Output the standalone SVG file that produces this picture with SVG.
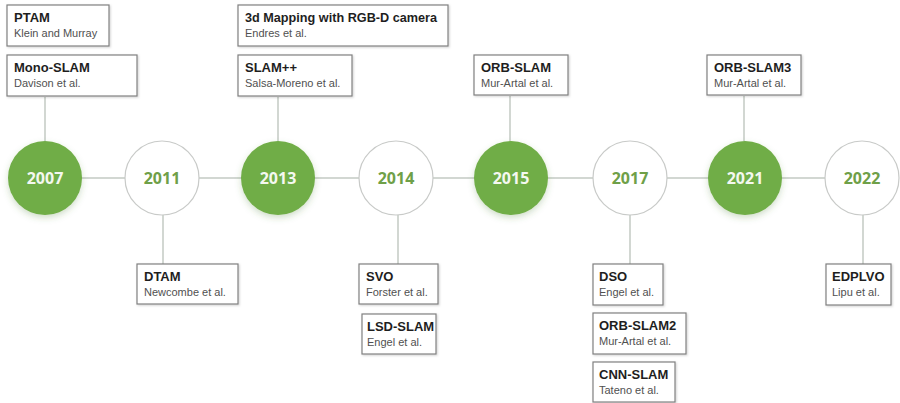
<svg xmlns="http://www.w3.org/2000/svg" width="900" height="403" viewBox="0 0 900 403">
  <defs>
    <filter id="soft" x="-30%" y="-30%" width="160%" height="170%">
      <feDropShadow dx="0" dy="3" stdDeviation="3" flood-color="#4a7a2a" flood-opacity="0.25"/>
    </filter>
    <filter id="boxshadow" x="-5%" y="-10%" width="110%" height="125%">
      <feDropShadow dx="1" dy="1" stdDeviation="0.8" flood-color="#000" flood-opacity="0.18"/>
    </filter>
  </defs>
  <style>
    .link { stroke: #c3cac3; stroke-width: 1.5; fill: none; }
    .yr-fill { fill: #70ad47; filter: url(#soft); }
    .yr-open { fill: #ffffff; stroke: #c8cac8; stroke-width: 1.2; }
    .yr-t { font-family: "Open Sans", "Liberation Sans", sans-serif; font-weight: 700; font-size: 16px; text-anchor: middle; }
    .yr-t.on { fill: #f4f8f0; }
    .yr-t.off { fill: #6fa048; }
    .card rect { fill: #ffffff; stroke: #808080; stroke-width: 1.2; filter: url(#boxshadow); }
    .ttl { font-family: "Liberation Sans", Arial, sans-serif; font-weight: 700; font-size: 13px; fill: #1e1e1e; }
    .sub { font-family: "Liberation Sans", Arial, sans-serif; font-size: 11px; fill: #505050; }
  </style>

  <!-- timeline connectors -->
  <g id="connectors">
    <line class="link" x1="45" y1="178" x2="862" y2="178"/>
    <line class="link" x1="45" y1="97" x2="45" y2="141"/>
    <line class="link" x1="278" y1="97" x2="278" y2="141"/>
    <line class="link" x1="510" y1="96" x2="510" y2="141"/>
    <line class="link" x1="744" y1="96" x2="744" y2="141"/>
    <line class="link" x1="163" y1="215" x2="163" y2="264"/>
    <line class="link" x1="398" y1="215" x2="398" y2="264"/>
    <line class="link" x1="630" y1="215" x2="630" y2="264"/>
    <line class="link" x1="863" y1="215" x2="863" y2="264"/>
  </g>

  <!-- year markers -->
  <g id="y2007"><circle class="yr-fill" cx="45" cy="178" r="37"/><text class="yr-t on" x="45" y="184">2007</text></g>
  <g id="y2011"><circle class="yr-open" cx="162" cy="178" r="37"/><text class="yr-t off" x="162" y="184">2011</text></g>
  <g id="y2013"><circle class="yr-fill" cx="278" cy="178" r="37"/><text class="yr-t on" x="278" y="184">2013</text></g>
  <g id="y2014"><circle class="yr-open" cx="396" cy="178" r="37"/><text class="yr-t off" x="396" y="184">2014</text></g>
  <g id="y2015"><circle class="yr-fill" cx="511" cy="178" r="37"/><text class="yr-t on" x="511" y="184">2015</text></g>
  <g id="y2017"><circle class="yr-open" cx="630" cy="178" r="37"/><text class="yr-t off" x="630" y="184">2017</text></g>
  <g id="y2021"><circle class="yr-fill" cx="745" cy="178" r="37"/><text class="yr-t on" x="745" y="184">2021</text></g>
  <g id="y2022"><circle class="yr-open" cx="862" cy="178" r="37"/><text class="yr-t off" x="862" y="184">2022</text></g>

  <!-- method cards -->
  <g id="ptam" class="card"><rect x="7" y="5" width="102" height="41"/><text class="ttl" x="14" y="22">PTAM</text><text class="sub" x="14" y="37">Klein and Murray</text></g>
  <g id="monoslam" class="card"><rect x="7" y="55" width="130" height="41"/><text class="ttl" x="14" y="72">Mono-SLAM</text><text class="sub" x="14" y="87">Davison et al.</text></g>
  <g id="rgbd" class="card"><rect x="238" y="5" width="210" height="41"/><text class="ttl" x="245" y="22" textLength="192" lengthAdjust="spacingAndGlyphs">3d Mapping with RGB-D camera</text><text class="sub" x="245" y="37">Endres et al.</text></g>
  <g id="slampp" class="card"><rect x="238" y="55" width="114" height="41"/><text class="ttl" x="245" y="72">SLAM++</text><text class="sub" x="245" y="87">Salsa-Moreno et al.</text></g>
  <g id="orbslam" class="card"><rect x="474" y="55" width="94" height="40"/><text class="ttl" x="481" y="72">ORB-SLAM</text><text class="sub" x="481" y="87">Mur-Artal et al.</text></g>
  <g id="orbslam3" class="card"><rect x="707" y="55" width="94" height="40"/><text class="ttl" x="714" y="72">ORB-SLAM3</text><text class="sub" x="714" y="87">Mur-Artal et al.</text></g>
  <g id="dtam" class="card"><rect x="137" y="264" width="101" height="40"/><text class="ttl" x="144" y="281">DTAM</text><text class="sub" x="144" y="296">Newcombe  et al.</text></g>
  <g id="svo" class="card"><rect x="359" y="264" width="79" height="40"/><text class="ttl" x="366" y="281">SVO</text><text class="sub" x="366" y="296">Forster et al.</text></g>
  <g id="lsdslam" class="card"><rect x="362" y="314" width="74" height="40"/><text class="ttl" x="367" y="331">LSD-SLAM</text><text class="sub" x="367" y="346">Engel et al.</text></g>
  <g id="dso" class="card"><rect x="593" y="264" width="70" height="41"/><text class="ttl" x="599" y="281">DSO</text><text class="sub" x="599" y="296">Engel et al.</text></g>
  <g id="orbslam2" class="card"><rect x="593" y="313" width="93" height="41"/><text class="ttl" x="599" y="330">ORB-SLAM2</text><text class="sub" x="599" y="345">Mur-Artal  et al.</text></g>
  <g id="cnnslam" class="card"><rect x="593" y="362" width="82" height="40"/><text class="ttl" x="599" y="379">CNN-SLAM</text><text class="sub" x="599" y="394">Tateno et al.</text></g>
  <g id="edplvo" class="card"><rect x="826" y="264" width="65" height="41"/><text class="ttl" x="832" y="281">EDPLVO</text><text class="sub" x="832" y="296">Lipu et al.</text></g>
</svg>
